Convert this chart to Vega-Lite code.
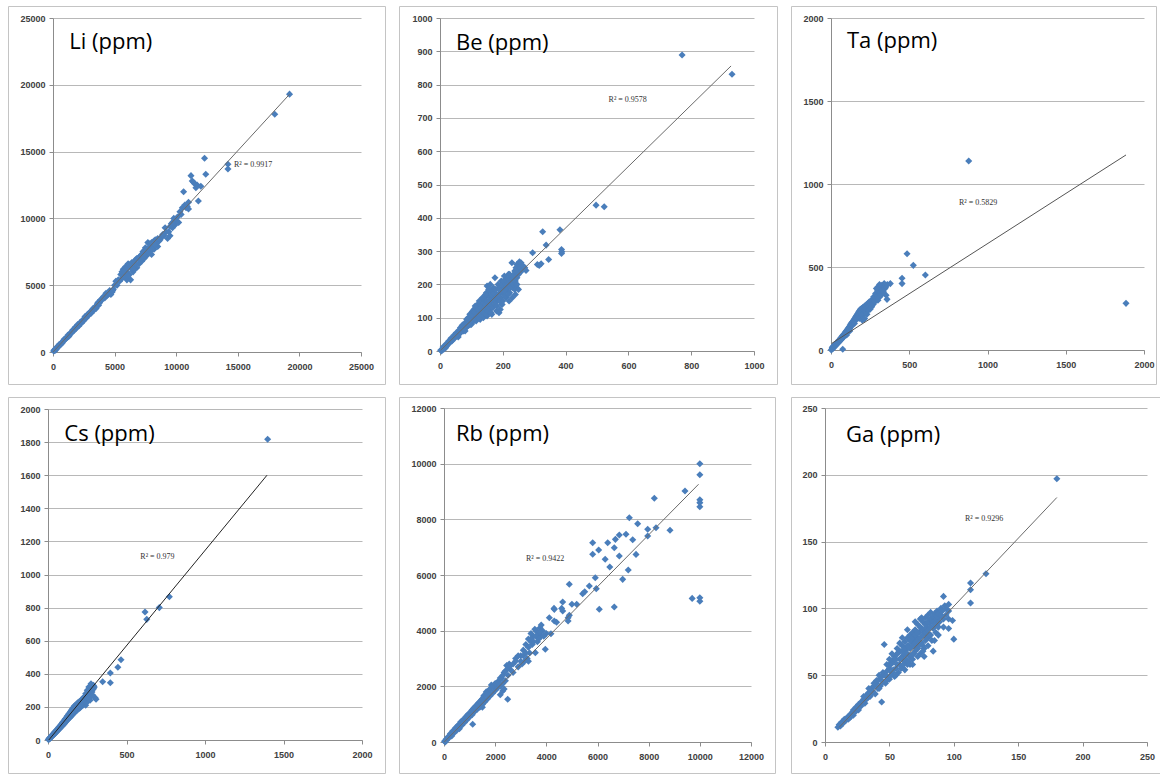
{
"$schema": "https://vega.github.io/schema/vega-lite/v6.json",
"padding": {"left": 7, "top": 5, "right": 0, "bottom": 0},
"background": "white",
"config": {
  "view": {"stroke": "#c4c4c4", "strokeWidth": 1},
  "axis": {"labelFont": "Liberation Sans", "labelFontSize": 9, "labelFontWeight": "bold", "labelColor": "#404040", "domainColor": "#8c8c8c", "tickColor": "#8c8c8c", "tickSize": 4, "gridColor": "#b8b8b8", "labelPadding": 4, "title": null, "format": "d", "labelOverlap": false, "labelFlush": false}
},
"datasets": {
"li": [{"x":50,"y":80},{"x":100,"y":150},{"x":150,"y":100},{"x":200,"y":250},{"x":300,"y":280},{"x":350,"y":400},{"x":450,"y":420},{"x":500,"y":560},{"x":600,"y":550},{"x":700,"y":720},{"x":800,"y":760},{"x":900,"y":950},{"x":1000,"y":980},{"x":1100,"y":1050},{"x":1200,"y":1250},{"x":1300,"y":1200},{"x":1400,"y":1420},{"x":1500,"y":1450},{"x":1600,"y":1650},{"x":1700,"y":1620},{"x":1800,"y":1850},{"x":1900,"y":1800},{"x":2000,"y":2050},{"x":2100,"y":1950},{"x":2200,"y":2200},{"x":2300,"y":2150},{"x":2400,"y":2400},{"x":2500,"y":2350},{"x":2600,"y":2650},{"x":2700,"y":2550},{"x":2800,"y":2800},{"x":2900,"y":2750},{"x":3000,"y":3000},{"x":3100,"y":2900},{"x":3200,"y":3150},{"x":3300,"y":3100},{"x":3400,"y":3350},{"x":3500,"y":3250},{"x":3600,"y":3600},{"x":3700,"y":3500},{"x":3800,"y":3750},{"x":3900,"y":3850},{"x":4000,"y":4000},{"x":4200,"y":4050},{"x":4300,"y":4400},{"x":4500,"y":4300},{"x":4600,"y":4600},{"x":4800,"y":4500},{"x":4900,"y":4700},{"x":5000,"y":5000},{"x":5100,"y":5300},{"x":5300,"y":5400},{"x":5500,"y":5800},{"x":5600,"y":5500},{"x":5700,"y":6200},{"x":5800,"y":5700},{"x":5900,"y":6400},{"x":6000,"y":6000},{"x":6000,"y":5400},{"x":6100,"y":6600},{"x":6200,"y":5800},{"x":6300,"y":6300},{"x":6300,"y":5400},{"x":6400,"y":6700},{"x":6500,"y":6000},{"x":6600,"y":6500},{"x":6700,"y":6900},{"x":6800,"y":6300},{"x":6900,"y":7000},{"x":7000,"y":6600},{"x":7100,"y":7200},{"x":7200,"y":6800},{"x":7300,"y":7500},{"x":7400,"y":7000},{"x":7500,"y":7800},{"x":7600,"y":7200},{"x":7700,"y":8200},{"x":7800,"y":7500},{"x":7900,"y":7900},{"x":8000,"y":7300},{"x":8100,"y":8000},{"x":8200,"y":7700},{"x":8300,"y":8400},{"x":8400,"y":8100},{"x":8500,"y":7900},{"x":8600,"y":8300},{"x":8800,"y":8600},{"x":9000,"y":8700},{"x":9100,"y":9300},{"x":9300,"y":8500},{"x":9400,"y":9000},{"x":9500,"y":8700},{"x":9600,"y":9600},{"x":9700,"y":9300},{"x":9800,"y":10000},{"x":9900,"y":9500},{"x":10000,"y":9800},{"x":10200,"y":9700},{"x":10400,"y":10300},{"x":10500,"y":10800},{"x":10600,"y":12000},{"x":10700,"y":11000},{"x":10900,"y":10900},{"x":11000,"y":11200},{"x":11200,"y":13200},{"x":11300,"y":12800},{"x":11500,"y":12600},{"x":11700,"y":12500},{"x":11800,"y":11300},{"x":12000,"y":12400},{"x":12300,"y":14500},{"x":12400,"y":13300},{"x":14200,"y":14050},{"x":14200,"y":13700},{"x":18000,"y":17800},{"x":19200,"y":19300},
{"x":250,"y":180},{"x":400,"y":350},{"x":650,"y":600},{"x":750,"y":680},{"x":850,"y":820},{"x":1050,"y":1000},{"x":1150,"y":1100},{"x":1250,"y":1150},{"x":1350,"y":1300},{"x":1450,"y":1400},{"x":1550,"y":1500},{"x":1650,"y":1580},{"x":1750,"y":1700},{"x":1850,"y":1750},{"x":1950,"y":1900},{"x":2050,"y":1980},{"x":2150,"y":2100},{"x":2250,"y":2180},{"x":2350,"y":2300},{"x":2450,"y":2350},{"x":2550,"y":2450},{"x":2650,"y":2550},{"x":2750,"y":2700},{"x":2850,"y":2850},{"x":2950,"y":2850},{"x":3050,"y":3000},{"x":3150,"y":3050},{"x":3250,"y":3250},{"x":3350,"y":3250},{"x":3450,"y":3400},{"x":3550,"y":3450},{"x":3650,"y":3700},{"x":3750,"y":3650},{"x":3850,"y":3900},{"x":3950,"y":3900},{"x":4100,"y":4150},{"x":4400,"y":4250},{"x":4700,"y":4500},{"x":4700,"y":4300},{"x":4850,"y":4600},{"x":5200,"y":5000},{"x":5400,"y":5300},{"x":5600,"y":6000},{"x":5800,"y":6000},{"x":6000,"y":6300},{"x":6100,"y":5700},{"x":6200,"y":6500},{"x":6400,"y":6200},{"x":6500,"y":6600},{"x":6600,"y":6200},{"x":6700,"y":6600},{"x":6800,"y":7000},{"x":7000,"y":7100},{"x":7100,"y":6800},{"x":7200,"y":7300},{"x":7300,"y":7100},{"x":7400,"y":7600},{"x":7500,"y":7300},{"x":7600,"y":7700},{"x":7700,"y":7400},{"x":7800,"y":8100},{"x":7900,"y":7600},{"x":8000,"y":8200},{"x":8100,"y":7700},{"x":8200,"y":8300},{"x":8300,"y":8000},{"x":8500,"y":8500},{"x":8700,"y":8400},{"x":8900,"y":8800},{"x":9200,"y":9000},{"x":9500,"y":9400},{"x":9700,"y":9700},{"x":10100,"y":10100},{"x":10300,"y":10500},{"x":10800,"y":10800},{"x":11000,"y":10700},{"x":11400,"y":12700},{"x":11600,"y":12300}],
"be": [{"x":2,"y":2},{"x":5,"y":0},{"x":8,"y":6},{"x":10,"y":12},{"x":12,"y":5},{"x":15,"y":15},{"x":18,"y":10},{"x":20,"y":22},{"x":22,"y":16},{"x":25,"y":20},{"x":28,"y":30},{"x":30,"y":24},{"x":33,"y":28},{"x":35,"y":38},{"x":38,"y":30},{"x":40,"y":40},{"x":42,"y":35},{"x":45,"y":48},{"x":48,"y":40},{"x":50,"y":45},{"x":52,"y":55},{"x":55,"y":50},{"x":58,"y":42},{"x":60,"y":62},{"x":62,"y":55},{"x":65,"y":70},{"x":68,"y":58},{"x":70,"y":65},{"x":72,"y":78},{"x":75,"y":60},{"x":78,"y":72},{"x":80,"y":85},{"x":82,"y":70},{"x":85,"y":95},{"x":88,"y":75},{"x":90,"y":100},{"x":92,"y":82},{"x":95,"y":110},{"x":97,"y":88},{"x":100,"y":105},{"x":100,"y":80},{"x":103,"y":118},{"x":105,"y":95},{"x":108,"y":125},{"x":110,"y":100},{"x":112,"y":135},{"x":115,"y":90},{"x":118,"y":120},{"x":120,"y":140},{"x":122,"y":105},{"x":125,"y":130},{"x":128,"y":95},{"x":130,"y":145},{"x":132,"y":115},{"x":135,"y":150},{"x":138,"y":100},{"x":140,"y":135},{"x":142,"y":160},{"x":145,"y":120},{"x":148,"y":175},{"x":150,"y":195},{"x":150,"y":105},{"x":153,"y":140},{"x":155,"y":165},{"x":158,"y":125},{"x":160,"y":180},{"x":163,"y":150},{"x":165,"y":110},{"x":168,"y":160},{"x":170,"y":190},{"x":172,"y":135},{"x":175,"y":220},{"x":178,"y":170},{"x":180,"y":120},{"x":183,"y":150},{"x":185,"y":200},{"x":188,"y":115},{"x":190,"y":175},{"x":193,"y":160},{"x":195,"y":210},{"x":198,"y":140},{"x":200,"y":185},{"x":203,"y":170},{"x":205,"y":225},{"x":208,"y":195},{"x":210,"y":160},{"x":212,"y":215},{"x":215,"y":180},{"x":218,"y":230},{"x":220,"y":200},{"x":222,"y":175},{"x":225,"y":225},{"x":228,"y":205},{"x":229,"y":265},{"x":232,"y":190},{"x":235,"y":215},{"x":238,"y":185},{"x":240,"y":235},{"x":242,"y":190},{"x":245,"y":260},{"x":250,"y":250},{"x":253,"y":268},{"x":258,"y":265},{"x":262,"y":250},{"x":270,"y":250},{"x":274,"y":242},{"x":295,"y":295},{"x":310,"y":260},{"x":316,"y":257},{"x":322,"y":262},{"x":327,"y":358},{"x":338,"y":318},{"x":346,"y":275},{"x":382,"y":364},{"x":387,"y":305},{"x":387,"y":293},{"x":388,"y":298},{"x":497,"y":438},{"x":523,"y":433},{"x":771,"y":889},{"x":930,"y":831},
{"x":60,"y":50},{"x":65,"y":55},{"x":70,"y":75},{"x":75,"y":68},{"x":80,"y":60},{"x":85,"y":72},{"x":90,"y":80},{"x":95,"y":78},{"x":100,"y":92},{"x":102,"y":110},{"x":105,"y":120},{"x":108,"y":90},{"x":110,"y":115},{"x":112,"y":95},{"x":115,"y":130},{"x":118,"y":105},{"x":120,"y":110},{"x":122,"y":125},{"x":125,"y":100},{"x":128,"y":140},{"x":130,"y":110},{"x":132,"y":130},{"x":135,"y":120},{"x":138,"y":145},{"x":140,"y":115},{"x":142,"y":130},{"x":145,"y":140},{"x":148,"y":110},{"x":150,"y":150},{"x":152,"y":120},{"x":155,"y":130},{"x":158,"y":150},{"x":160,"y":140},{"x":162,"y":115},{"x":165,"y":170},{"x":168,"y":130},{"x":170,"y":150},{"x":172,"y":175},{"x":175,"y":140},{"x":178,"y":185},{"x":180,"y":160},{"x":182,"y":135},{"x":185,"y":165},{"x":188,"y":190},{"x":190,"y":150},{"x":192,"y":125},{"x":195,"y":180},{"x":198,"y":200},{"x":200,"y":150},{"x":202,"y":210},{"x":205,"y":180},{"x":208,"y":165},{"x":210,"y":200},{"x":212,"y":190},{"x":215,"y":200},{"x":218,"y":170},{"x":220,"y":215},{"x":222,"y":230},{"x":225,"y":190},{"x":228,"y":215},{"x":230,"y":205},{"x":232,"y":225},{"x":235,"y":200},{"x":238,"y":240},{"x":240,"y":210},{"x":242,"y":250},{"x":245,"y":220},{"x":248,"y":240},{"x":250,"y":230},{"x":255,"y":250},{"x":260,"y":240},{"x":265,"y":255},{"x":245,"y":200},{"x":250,"y":185},{"x":240,"y":170},{"x":230,"y":160},{"x":220,"y":150},{"x":160,"y":200},{"x":155,"y":185},{"x":145,"y":170},{"x":135,"y":160},{"x":125,"y":150}],
"ta": [{"x":2,"y":0},{"x":5,"y":5},{"x":8,"y":15},{"x":10,"y":8},{"x":12,"y":20},{"x":15,"y":12},{"x":18,"y":25},{"x":20,"y":18},{"x":22,"y":30},{"x":25,"y":22},{"x":28,"y":35},{"x":30,"y":28},{"x":33,"y":40},{"x":35,"y":32},{"x":38,"y":45},{"x":40,"y":38},{"x":42,"y":50},{"x":45,"y":42},{"x":48,"y":55},{"x":50,"y":48},{"x":52,"y":60},{"x":55,"y":52},{"x":58,"y":65},{"x":60,"y":58},{"x":62,"y":72},{"x":65,"y":62},{"x":68,"y":78},{"x":70,"y":68},{"x":72,"y":85},{"x":75,"y":4},{"x":75,"y":72},{"x":78,"y":90},{"x":80,"y":80},{"x":82,"y":95},{"x":85,"y":85},{"x":88,"y":100},{"x":90,"y":92},{"x":92,"y":108},{"x":95,"y":98},{"x":98,"y":115},{"x":100,"y":105},{"x":103,"y":120},{"x":105,"y":110},{"x":108,"y":128},{"x":110,"y":118},{"x":113,"y":135},{"x":115,"y":125},{"x":118,"y":142},{"x":120,"y":130},{"x":123,"y":150},{"x":125,"y":138},{"x":128,"y":158},{"x":130,"y":145},{"x":133,"y":165},{"x":135,"y":150},{"x":138,"y":170},{"x":140,"y":158},{"x":143,"y":178},{"x":145,"y":165},{"x":148,"y":185},{"x":150,"y":172},{"x":153,"y":192},{"x":155,"y":180},{"x":158,"y":200},{"x":160,"y":185},{"x":163,"y":208},{"x":165,"y":192},{"x":168,"y":215},{"x":170,"y":200},{"x":173,"y":222},{"x":175,"y":205},{"x":178,"y":230},{"x":180,"y":212},{"x":183,"y":238},{"x":185,"y":218},{"x":188,"y":245},{"x":190,"y":225},{"x":195,"y":250},{"x":200,"y":232},{"x":205,"y":258},{"x":210,"y":240},{"x":215,"y":265},{"x":220,"y":248},{"x":225,"y":272},{"x":230,"y":255},{"x":235,"y":280},{"x":240,"y":262},{"x":245,"y":290},{"x":250,"y":270},{"x":258,"y":300},{"x":265,"y":280},{"x":272,"y":320},{"x":278,"y":300},{"x":285,"y":340},{"x":290,"y":310},{"x":298,"y":360},{"x":305,"y":330},{"x":312,"y":375},{"x":318,"y":345},{"x":325,"y":390},{"x":330,"y":360},{"x":340,"y":400},{"x":345,"y":370},{"x":352,"y":330},{"x":358,"y":305},{"x":379,"y":400},{"x":454,"y":432},{"x":454,"y":400},{"x":486,"y":580},{"x":526,"y":510},{"x":603,"y":452},{"x":880,"y":1139},{"x":1885,"y":281},
{"x":100,"y":90},{"x":120,"y":115},{"x":150,"y":160},{"x":180,"y":190},{"x":200,"y":210},{"x":210,"y":185},{"x":220,"y":230},{"x":230,"y":215},{"x":240,"y":240},{"x":250,"y":245},{"x":260,"y":260},{"x":270,"y":275},{"x":280,"y":290},{"x":300,"y":300},{"x":310,"y":320},{"x":320,"y":330},{"x":335,"y":350},{"x":350,"y":380},{"x":360,"y":395},{"x":300,"y":380},{"x":310,"y":395},{"x":290,"y":370},{"x":200,"y":180},{"x":215,"y":190}],
"cs": [{"x":2,"y":3},{"x":5,"y":5},{"x":8,"y":10},{"x":10,"y":6},{"x":12,"y":14},{"x":15,"y":12},{"x":18,"y":20},{"x":20,"y":16},{"x":22,"y":25},{"x":25,"y":22},{"x":28,"y":30},{"x":30,"y":26},{"x":32,"y":36},{"x":35,"y":30},{"x":38,"y":42},{"x":40,"y":35},{"x":42,"y":48},{"x":45,"y":40},{"x":48,"y":52},{"x":50,"y":45},{"x":52,"y":58},{"x":55,"y":50},{"x":58,"y":62},{"x":60,"y":55},{"x":62,"y":70},{"x":65,"y":60},{"x":68,"y":75},{"x":70,"y":65},{"x":72,"y":80},{"x":75,"y":70},{"x":78,"y":85},{"x":80,"y":75},{"x":82,"y":92},{"x":85,"y":80},{"x":88,"y":98},{"x":90,"y":85},{"x":92,"y":105},{"x":95,"y":90},{"x":98,"y":110},{"x":100,"y":95},{"x":103,"y":118},{"x":105,"y":100},{"x":108,"y":125},{"x":110,"y":105},{"x":113,"y":130},{"x":115,"y":112},{"x":118,"y":138},{"x":120,"y":118},{"x":123,"y":145},{"x":125,"y":122},{"x":128,"y":150},{"x":130,"y":128},{"x":133,"y":158},{"x":135,"y":132},{"x":138,"y":162},{"x":140,"y":138},{"x":143,"y":170},{"x":145,"y":142},{"x":148,"y":178},{"x":150,"y":148},{"x":153,"y":185},{"x":155,"y":152},{"x":158,"y":192},{"x":160,"y":158},{"x":163,"y":198},{"x":165,"y":162},{"x":168,"y":205},{"x":170,"y":168},{"x":175,"y":210},{"x":178,"y":175},{"x":182,"y":218},{"x":185,"y":180},{"x":190,"y":225},{"x":195,"y":188},{"x":200,"y":232},{"x":205,"y":195},{"x":210,"y":240},{"x":215,"y":205},{"x":220,"y":250},{"x":225,"y":212},{"x":230,"y":260},{"x":235,"y":220},{"x":240,"y":210},{"x":245,"y":262},{"x":250,"y":230},{"x":255,"y":280},{"x":262,"y":300},{"x":268,"y":240},{"x":274,"y":340},{"x":280,"y":290},{"x":290,"y":310},{"x":300,"y":255},{"x":306,"y":246},{"x":348,"y":352},{"x":397,"y":405},{"x":397,"y":346},{"x":445,"y":440},{"x":465,"y":485},{"x":618,"y":773},{"x":629,"y":729},{"x":709,"y":800},{"x":773,"y":866},{"x":1399,"y":1817},
{"x":150,"y":160},{"x":160,"y":175},{"x":170,"y":185},{"x":180,"y":200},{"x":190,"y":205},{"x":200,"y":215},{"x":210,"y":220},{"x":220,"y":235},{"x":230,"y":240},{"x":240,"y":255},{"x":250,"y":260},{"x":260,"y":270},{"x":270,"y":280},{"x":280,"y":300},{"x":290,"y":330},{"x":250,"y":300},{"x":260,"y":320},{"x":240,"y":280},{"x":230,"y":230},{"x":220,"y":225},{"x":210,"y":210},{"x":200,"y":200},{"x":195,"y":210},{"x":185,"y":195},{"x":175,"y":190},{"x":165,"y":175},{"x":155,"y":165},{"x":270,"y":260},{"x":285,"y":270},{"x":295,"y":320},{"x":260,"y":250}],
"rb": [{"x":20,"y":30},{"x":50,"y":0},{"x":80,"y":100},{"x":100,"y":60},{"x":150,"y":180},{"x":200,"y":150},{"x":250,"y":300},{"x":300,"y":220},{"x":350,"y":400},{"x":400,"y":330},{"x":450,"y":500},{"x":500,"y":420},{"x":550,"y":600},{"x":600,"y":480},{"x":650,"y":720},{"x":700,"y":600},{"x":750,"y":800},{"x":800,"y":700},{"x":850,"y":900},{"x":900,"y":800},{"x":950,"y":1000},{"x":1000,"y":900},{"x":1050,"y":1100},{"x":1121,"y":636},{"x":1100,"y":980},{"x":1150,"y":1200},{"x":1200,"y":1100},{"x":1250,"y":1300},{"x":1300,"y":1180},{"x":1350,"y":1400},{"x":1400,"y":1250},{"x":1450,"y":1500},{"x":1500,"y":1350},{"x":1550,"y":1650},{"x":1600,"y":1450},{"x":1650,"y":1800},{"x":1700,"y":1550},{"x":1750,"y":1850},{"x":1800,"y":1650},{"x":1850,"y":2050},{"x":1900,"y":1750},{"x":1950,"y":2000},{"x":2000,"y":1850},{"x":2050,"y":2100},{"x":2100,"y":1950},{"x":2150,"y":2200},{"x":2200,"y":2000},{"x":2250,"y":2300},{"x":2294,"y":1832},{"x":2300,"y":2100},{"x":2350,"y":2500},{"x":2400,"y":2200},{"x":2450,"y":2750},{"x":2489,"y":1534},{"x":2500,"y":2400},{"x":2550,"y":2800},{"x":2600,"y":2600},{"x":2700,"y":2500},{"x":2800,"y":2900},{"x":2900,"y":2700},{"x":3000,"y":3100},{"x":3050,"y":2800},{"x":3100,"y":3300},{"x":3150,"y":2900},{"x":3200,"y":3500},{"x":3250,"y":3000},{"x":3300,"y":3700},{"x":3350,"y":3200},{"x":3400,"y":3900},{"x":3450,"y":3500},{"x":3500,"y":3800},{"x":3570,"y":3210},{"x":3600,"y":4000},{"x":3650,"y":3600},{"x":3700,"y":3900},{"x":3750,"y":4100},{"x":3800,"y":3800},{"x":3850,"y":4000},{"x":3960,"y":3330},{"x":4000,"y":3900},{"x":4117,"y":4466},{"x":4180,"y":3892},{"x":4312,"y":4766},{"x":4312,"y":4346},{"x":4639,"y":5030},{"x":4640,"y":4706},{"x":4850,"y":4466},{"x":4850,"y":4346},{"x":4898,"y":5665},{"x":5187,"y":4946},{"x":5420,"y":5328},{"x":5680,"y":5605},{"x":5812,"y":7161},{"x":5812,"y":6743},{"x":5913,"y":5904},{"x":5952,"y":5510},{"x":6046,"y":6900},{"x":6070,"y":4767},{"x":6300,"y":6563},{"x":6399,"y":7161},{"x":6480,"y":6288},{"x":6656,"y":6981},{"x":6656,"y":4850},{"x":6700,"y":7280},{"x":6852,"y":7437},{"x":6852,"y":6680},{"x":6984,"y":5844},{"x":7114,"y":7461},{"x":7202,"y":6180},{"x":7244,"y":8060},{"x":7376,"y":7269},{"x":7506,"y":6740},{"x":7570,"y":7844},{"x":7962,"y":7641},{"x":7962,"y":7401},{"x":8221,"y":8755},{"x":8287,"y":7700},{"x":8834,"y":7605},{"x":9420,"y":9020},{"x":9700,"y":5160},{"x":10000,"y":10000},{"x":10000,"y":9600},{"x":10000,"y":8700},{"x":10000,"y":8600},{"x":10000,"y":8450},{"x":10000,"y":5180},{"x":10000,"y":5060},
{"x":500,"y":550},{"x":700,"y":750},{"x":900,"y":950},{"x":1100,"y":1150},{"x":1200,"y":1250},{"x":1300,"y":1350},{"x":1400,"y":1450},{"x":1500,"y":1550},{"x":1600,"y":1700},{"x":1700,"y":1750},{"x":1800,"y":1900},{"x":1900,"y":2000},{"x":2000,"y":2100},{"x":2100,"y":2150},{"x":2200,"y":2300},{"x":2300,"y":2400},{"x":2400,"y":2550},{"x":2500,"y":2650},{"x":2600,"y":2750},{"x":2700,"y":2800},{"x":2800,"y":3000},{"x":2900,"y":3100},{"x":3000,"y":2900},{"x":3100,"y":3100},{"x":3200,"y":3200},{"x":3300,"y":3400},{"x":3400,"y":3600},{"x":3500,"y":3600},{"x":3600,"y":3800},{"x":3700,"y":3700},{"x":3800,"y":4200},{"x":3900,"y":3800},{"x":2200,"y":1700},{"x":2350,"y":1900},{"x":1500,"y":1250},{"x":3300,"y":2900},{"x":3400,"y":3700},{"x":3550,"y":4050},{"x":3750,"y":3950},{"x":4300,"y":4800},{"x":4600,"y":4800},{"x":5000,"y":4950},{"x":5500,"y":5400},{"x":4900,"y":4550},{"x":4400,"y":4300}],
"ga": [{"x":10,"y":11},{"x":11,"y":13},{"x":12,"y":12},{"x":13,"y":15},{"x":14,"y":14},{"x":15,"y":17},{"x":16,"y":16},{"x":17,"y":18},{"x":18,"y":19},{"x":19,"y":18},{"x":20,"y":21},{"x":21,"y":22},{"x":22,"y":20},{"x":23,"y":24},{"x":24,"y":23},{"x":25,"y":25},{"x":26,"y":24},{"x":27,"y":28},{"x":28,"y":27},{"x":29,"y":30},{"x":30,"y":32},{"x":31,"y":29},{"x":32,"y":35},{"x":33,"y":33},{"x":34,"y":37},{"x":35,"y":34},{"x":36,"y":40},{"x":37,"y":38},{"x":38,"y":42},{"x":39,"y":36},{"x":40,"y":44},{"x":41,"y":40},{"x":42,"y":47},{"x":43,"y":42},{"x":44,"y":30},{"x":44,"y":49},{"x":45,"y":45},{"x":46,"y":73},{"x":46,"y":50},{"x":47,"y":44},{"x":48,"y":53},{"x":49,"y":48},{"x":50,"y":55},{"x":50,"y":47},{"x":51,"y":58},{"x":52,"y":52},{"x":53,"y":60},{"x":54,"y":49},{"x":55,"y":62},{"x":55,"y":55},{"x":56,"y":66},{"x":57,"y":52},{"x":58,"y":68},{"x":58,"y":58},{"x":59,"y":63},{"x":60,"y":72},{"x":60,"y":56},{"x":61,"y":65},{"x":62,"y":75},{"x":62,"y":60},{"x":63,"y":69},{"x":64,"y":78},{"x":64,"y":58},{"x":65,"y":72},{"x":66,"y":80},{"x":66,"y":64},{"x":67,"y":75},{"x":68,"y":82},{"x":68,"y":62},{"x":69,"y":77},{"x":70,"y":84},{"x":70,"y":68},{"x":71,"y":79},{"x":72,"y":88},{"x":72,"y":70},{"x":73,"y":82},{"x":74,"y":92},{"x":74,"y":66},{"x":75,"y":85},{"x":76,"y":90},{"x":76,"y":72},{"x":77,"y":64},{"x":78,"y":93},{"x":78,"y":76},{"x":79,"y":86},{"x":80,"y":95},{"x":80,"y":78},{"x":81,"y":89},{"x":82,"y":97},{"x":82,"y":80},{"x":83,"y":92},{"x":84,"y":68},{"x":84,"y":85},{"x":85,"y":96},{"x":86,"y":88},{"x":87,"y":98},{"x":88,"y":90},{"x":89,"y":94},{"x":90,"y":100},{"x":92,"y":109},{"x":93,"y":102},{"x":94,"y":95},{"x":96,"y":103},{"x":96,"y":92},{"x":96,"y":85},{"x":99,"y":91},{"x":100,"y":77},{"x":113,"y":119},{"x":113,"y":114},{"x":113,"y":104},{"x":125,"y":126},{"x":180,"y":197},
{"x":40,"y":46},{"x":42,"y":40},{"x":45,"y":52},{"x":47,"y":50},{"x":48,"y":46},{"x":50,"y":58},{"x":51,"y":50},{"x":52,"y":61},{"x":53,"y":54},{"x":54,"y":64},{"x":55,"y":50},{"x":56,"y":58},{"x":57,"y":67},{"x":58,"y":62},{"x":59,"y":55},{"x":60,"y":68},{"x":60,"y":62},{"x":61,"y":58},{"x":62,"y":70},{"x":62,"y":66},{"x":63,"y":62},{"x":64,"y":72},{"x":64,"y":66},{"x":65,"y":60},{"x":66,"y":76},{"x":66,"y":70},{"x":67,"y":65},{"x":68,"y":78},{"x":68,"y":72},{"x":69,"y":66},{"x":70,"y":80},{"x":70,"y":74},{"x":71,"y":70},{"x":72,"y":82},{"x":72,"y":76},{"x":73,"y":72},{"x":74,"y":86},{"x":74,"y":78},{"x":75,"y":74},{"x":76,"y":84},{"x":76,"y":80},{"x":77,"y":70},{"x":78,"y":88},{"x":78,"y":82},{"x":79,"y":78},{"x":80,"y":90},{"x":80,"y":84},{"x":81,"y":80},{"x":82,"y":92},{"x":82,"y":86},{"x":83,"y":76},{"x":84,"y":90},{"x":84,"y":94},{"x":85,"y":88},{"x":86,"y":92},{"x":86,"y":82},{"x":87,"y":94},{"x":88,"y":96},{"x":88,"y":86},{"x":89,"y":90},{"x":90,"y":95},{"x":91,"y":98},{"x":92,"y":92},{"x":94,"y":100},{"x":96,"y":98},{"x":60,"y":78},{"x":56,"y":70},{"x":64,"y":84},{"x":70,"y":90},{"x":75,"y":93},{"x":52,"y":66},{"x":58,"y":74},{"x":66,"y":58},{"x":72,"y":64},{"x":80,"y":72},{"x":88,"y":80},{"x":54,"y":62},{"x":62,"y":54},{"x":68,"y":58},{"x":76,"y":68},{"x":85,"y":76},{"x":92,"y":86},{"x":48,"y":58},{"x":50,"y":62},{"x":42,"y":50},{"x":38,"y":44},{"x":36,"y":36},{"x":34,"y":40},{"x":32,"y":32},{"x":30,"y":34},{"x":28,"y":30},{"x":26,"y":28},{"x":24,"y":26},{"x":22,"y":24},{"x":20,"y":19},{"x":18,"y":17}]
},
"concat": [
  {"width": 377, "height": 378,
   "encoding": {
    "x": {"field": "x", "type": "quantitative", "scale": {"domain": [0, 25000], "range": [45, 353], "nice": false, "zero": false}, "axis": {"values": [0, 5000, 10000, 15000, 20000, 25000], "offset": -32, "grid": false, "labelPadding": 6}},
    "y": {"field": "y", "type": "quantitative", "scale": {"domain": [0, 25000], "range": [346, 12], "nice": false, "zero": false}, "axis": {"values": [0, 5000, 10000, 15000, 20000, 25000], "offset": -45, "grid": true}}
   },
   "layer": [
    {"data": {"name": "li"}, "mark": {"type": "point", "shape": "diamond", "filled": true, "size": 50, "color": "#4A7EBB", "opacity": 1}},
    {"data": {"values": [{"x": 10, "y": 0}, {"x": 19200, "y": 19290}]}, "mark": {"type": "line", "color": "#6a6a6a", "strokeWidth": 1}, "encoding": {}},
    {"data": {"values": [{"x": 1323, "y": 23226, "t": "Li (ppm)"}]}, "mark": {"type": "text", "align": "left", "baseline": "middle", "font": "Open Sans", "fontSize": 22, "color": "#000000"}, "encoding": {"text": {"field": "t"}}},
    {"data": {"values": [{"x": 14692, "y": 13997, "t": "R² = 0.9917"}]}, "mark": {"type": "text", "align": "left", "baseline": "middle", "font": "Liberation Serif", "fontSize": 8, "color": "#333333"}, "encoding": {"text": {"field": "t"}}}
   ]},
  {"width": 378, "height": 378,
   "encoding": {
    "x": {"field": "x", "type": "quantitative", "scale": {"domain": [0, 1000], "range": [41, 355], "nice": false, "zero": false}, "axis": {"values": [0, 200, 400, 600, 800, 1000], "offset": -33, "grid": false, "labelPadding": 6}},
    "y": {"field": "y", "type": "quantitative", "scale": {"domain": [0, 1000], "range": [345, 12], "nice": false, "zero": false}, "axis": {"values": [0, 100, 200, 300, 400, 500, 600, 700, 800, 900, 1000], "offset": -41, "grid": true}}
   },
   "layer": [
    {"data": {"name": "be"}, "mark": {"type": "point", "shape": "diamond", "filled": true, "size": 50, "color": "#4A7EBB", "opacity": 1}},
    {"data": {"values": [{"x": 2, "y": 2}, {"x": 927, "y": 856}]}, "mark": {"type": "line", "color": "#6a6a6a", "strokeWidth": 1}, "encoding": {}},
    {"data": {"values": [{"x": 51, "y": 926, "t": "Be (ppm)"}]}, "mark": {"type": "text", "align": "left", "baseline": "middle", "font": "Open Sans", "fontSize": 22, "color": "#000000"}, "encoding": {"text": {"field": "t"}}},
    {"data": {"values": [{"x": 537, "y": 753, "t": "R² = 0.9578"}]}, "mark": {"type": "text", "align": "left", "baseline": "middle", "font": "Liberation Serif", "fontSize": 8, "color": "#333333"}, "encoding": {"text": {"field": "t"}}}
   ]},
  {"width": 365, "height": 378,
   "encoding": {
    "x": {"field": "x", "type": "quantitative", "scale": {"domain": [0, 2000], "range": [40, 353], "nice": false, "zero": false}, "axis": {"values": [0, 500, 1000, 1500, 2000], "offset": -34, "grid": false, "labelPadding": 6}},
    "y": {"field": "y", "type": "quantitative", "scale": {"domain": [0, 2000], "range": [344, 12], "nice": false, "zero": false}, "axis": {"values": [0, 500, 1000, 1500, 2000], "offset": -40, "grid": true}}
   },
   "layer": [
    {"data": {"name": "ta"}, "mark": {"type": "point", "shape": "diamond", "filled": true, "size": 50, "color": "#4A7EBB", "opacity": 1}},
    {"data": {"values": [{"x": 5, "y": 40}, {"x": 1885, "y": 1175}]}, "mark": {"type": "line", "color": "#555555", "strokeWidth": 1}, "encoding": {}},
    {"data": {"values": [{"x": 102, "y": 1861, "t": "Ta (ppm)"}]}, "mark": {"type": "text", "align": "left", "baseline": "middle", "font": "Open Sans", "fontSize": 22, "color": "#000000"}, "encoding": {"text": {"field": "t"}}},
    {"data": {"values": [{"x": 818, "y": 887, "t": "R² = 0.5829"}]}, "mark": {"type": "text", "align": "left", "baseline": "middle", "font": "Liberation Serif", "fontSize": 8, "color": "#333333"}, "encoding": {"text": {"field": "t"}}}
   ]},
  {"width": 377, "height": 376,
   "encoding": {
    "x": {"field": "x", "type": "quantitative", "scale": {"domain": [0, 2000], "range": [40, 354], "nice": false, "zero": false}, "axis": {"values": [0, 500, 1000, 1500, 2000], "offset": -33, "grid": false, "labelPadding": 6}},
    "y": {"field": "y", "type": "quantitative", "scale": {"domain": [0, 2000], "range": [343, 12], "nice": false, "zero": false}, "axis": {"values": [0, 200, 400, 600, 800, 1000, 1200, 1400, 1600, 1800, 2000], "offset": -40, "grid": true}}
   },
   "layer": [
    {"data": {"name": "cs"}, "mark": {"type": "point", "shape": "diamond", "filled": true, "size": 50, "color": "#4A7EBB", "opacity": 1}},
    {"data": {"values": [{"x": 5, "y": 0}, {"x": 1395, "y": 1600}]}, "mark": {"type": "line", "color": "#222222", "strokeWidth": 1}, "encoding": {}},
    {"data": {"values": [{"x": 104, "y": 1847, "t": "Cs (ppm)"}]}, "mark": {"type": "text", "align": "left", "baseline": "middle", "font": "Open Sans", "fontSize": 22, "color": "#000000"}, "encoding": {"text": {"field": "t"}}},
    {"data": {"values": [{"x": 588, "y": 1108, "t": "R² = 0.979"}]}, "mark": {"type": "text", "align": "left", "baseline": "middle", "font": "Liberation Serif", "fontSize": 8, "color": "#333333"}, "encoding": {"text": {"field": "t"}}}
   ]},
  {"width": 376, "height": 376,
   "encoding": {
    "x": {"field": "x", "type": "quantitative", "scale": {"domain": [0, 12000], "range": [45, 352], "nice": false, "zero": false}, "axis": {"values": [0, 2000, 4000, 6000, 8000, 10000, 12000], "offset": -31, "grid": false, "labelPadding": 6}},
    "y": {"field": "y", "type": "quantitative", "scale": {"domain": [0, 12000], "range": [345, 11], "nice": false, "zero": false}, "axis": {"values": [0, 2000, 4000, 6000, 8000, 10000, 12000], "offset": -45, "grid": true}}
   },
   "layer": [
    {"data": {"name": "rb"}, "mark": {"type": "point", "shape": "diamond", "filled": true, "size": 50, "color": "#4A7EBB", "opacity": 1}},
    {"data": {"values": [{"x": 10, "y": 0}, {"x": 9950, "y": 9260}]}, "mark": {"type": "line", "color": "#6a6a6a", "strokeWidth": 1}, "encoding": {}},
    {"data": {"values": [{"x": 469, "y": 11055, "t": "Rb (ppm)"}]}, "mark": {"type": "text", "align": "left", "baseline": "middle", "font": "Open Sans", "fontSize": 22, "color": "#000000"}, "encoding": {"text": {"field": "t"}}},
    {"data": {"values": [{"x": 3205, "y": 6564, "t": "R² = 0.9422"}]}, "mark": {"type": "text", "align": "left", "baseline": "middle", "font": "Liberation Serif", "fontSize": 8, "color": "#333333"}, "encoding": {"text": {"field": "t"}}}
   ]},
  {"width": 370, "height": 376,
   "encoding": {
    "x": {"field": "x", "type": "quantitative", "scale": {"domain": [0, 250], "range": [34, 356], "nice": false, "zero": false}, "axis": {"values": [0, 50, 100, 150, 200, 250], "offset": -31, "grid": false, "labelPadding": 6}},
    "y": {"field": "y", "type": "quantitative", "scale": {"domain": [0, 250], "range": [345, 11], "nice": false, "zero": false}, "axis": {"values": [0, 50, 100, 150, 200, 250], "offset": -34, "grid": true}}
   },
   "layer": [
    {"data": {"name": "ga"}, "mark": {"type": "point", "shape": "diamond", "filled": true, "size": 50, "color": "#4A7EBB", "opacity": 1}},
    {"data": {"values": [{"x": 11, "y": 11}, {"x": 180, "y": 183}]}, "mark": {"type": "line", "color": "#6a6a6a", "strokeWidth": 1}, "encoding": {}},
    {"data": {"values": [{"x": 16.3, "y": 230, "t": "Ga (ppm)"}]}, "mark": {"type": "text", "align": "left", "baseline": "middle", "font": "Open Sans", "fontSize": 22, "color": "#000000"}, "encoding": {"text": {"field": "t"}}},
    {"data": {"values": [{"x": 108.7, "y": 167, "t": "R² = 0.9296"}]}, "mark": {"type": "text", "align": "left", "baseline": "middle", "font": "Liberation Serif", "fontSize": 8, "color": "#333333"}, "encoding": {"text": {"field": "t"}}}
   ]}
],
"columns": 3,
"spacing": {"row": 13, "column": 14},
"bounds": "flush"
}
